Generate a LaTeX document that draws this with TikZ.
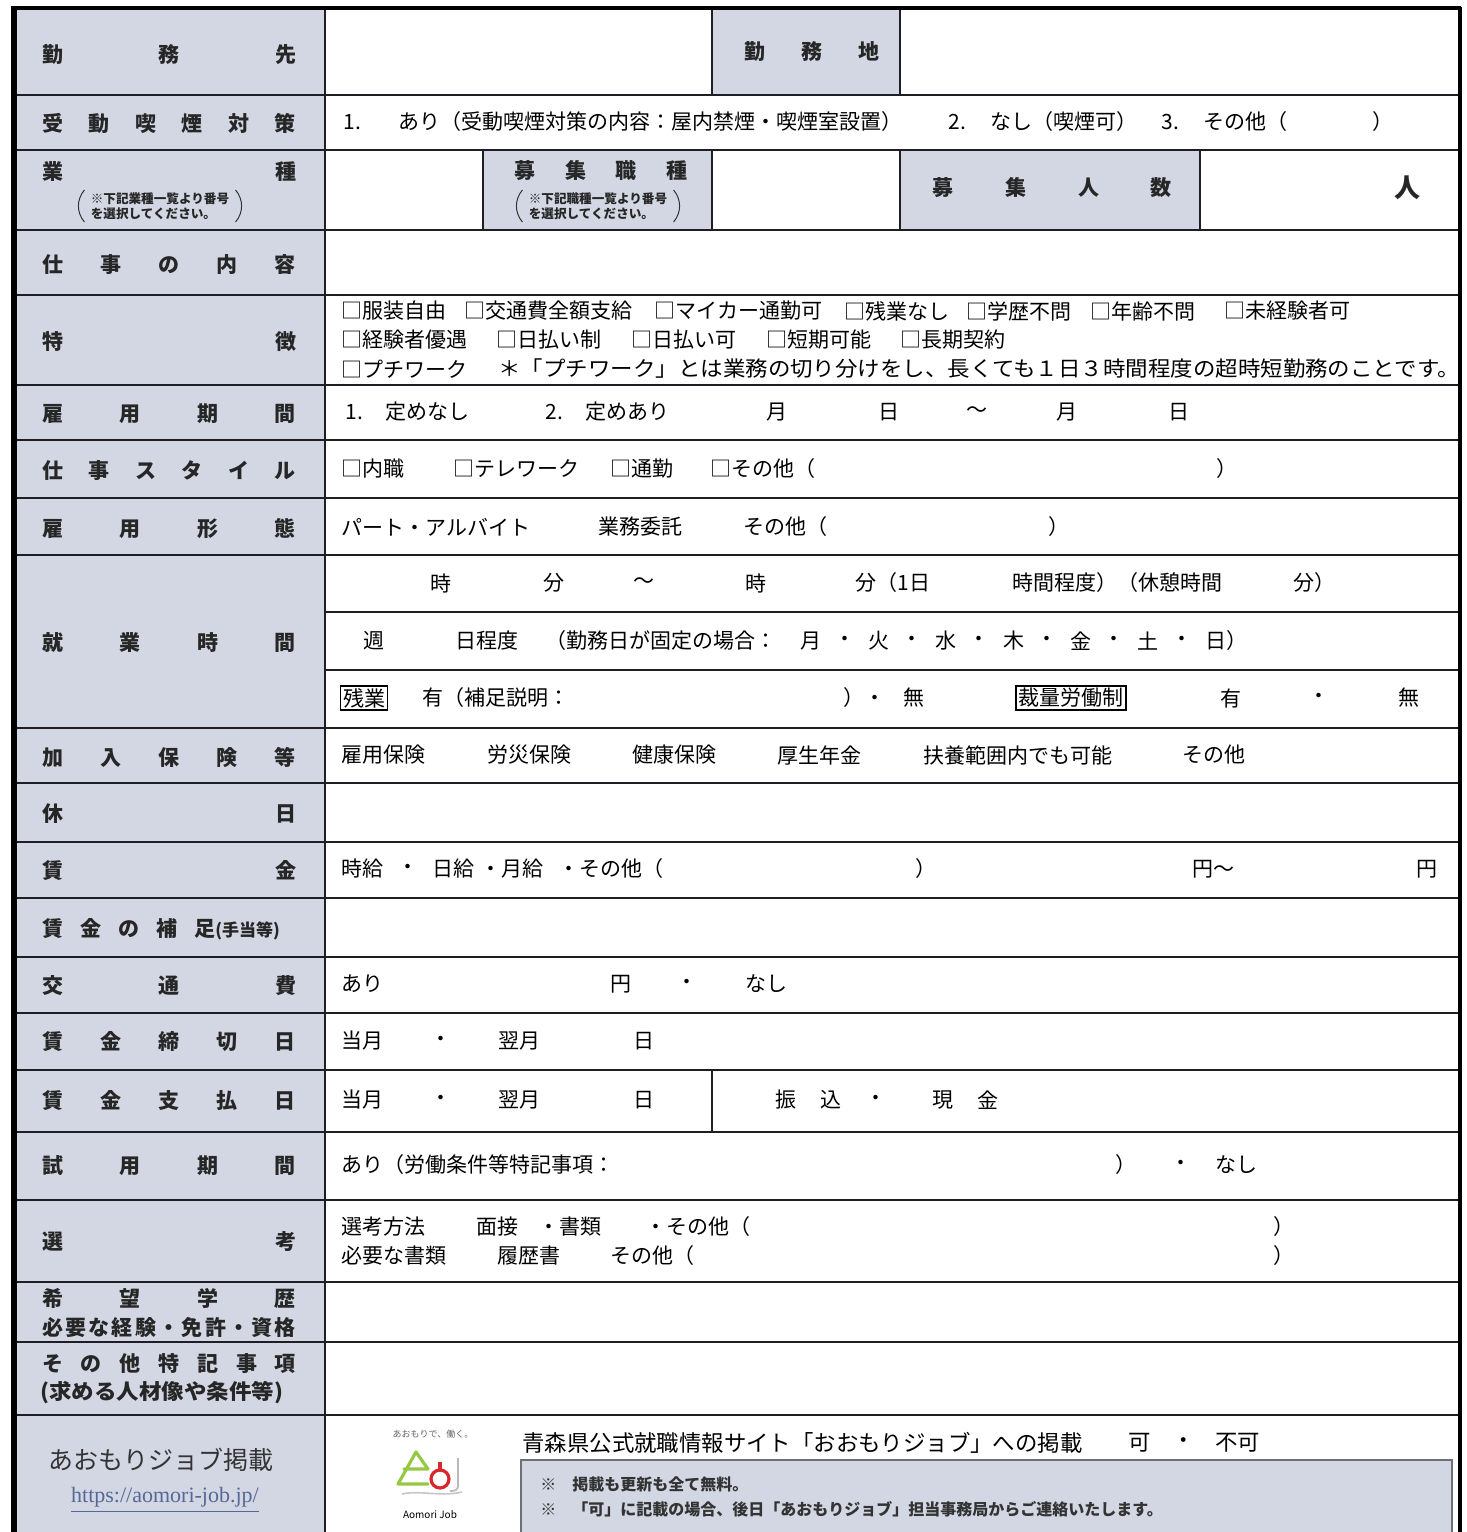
\documentclass[tikz,border=0pt]{standalone}
\usepackage{graphicx}
\usepackage{fontspec}
\setmainfont{Noto Sans CJK JP}
\newfontfamily\urlf{Liberation Serif}
\definecolor{labfill}{RGB}{211,215,228}
\definecolor{rulec}{RGB}{30,30,36}
\definecolor{urlc}{RGB}{85,105,150}
\definecolor{logog}{RGB}{150,200,70}
\definecolor{logor}{RGB}{215,40,45}
\definecolor{boxedge}{RGB}{110,112,120}
\makeatletter
\newcommand\spr[2][127pt]{\makebox[#1][s]{\let\spr@sep\relax\@tfor\spr@c:=#2\do{\spr@sep\spr@c\let\spr@sep\hfill}}}
\makeatother
\newcounter{tn}
\newcommand\tx[3]{\stepcounter{tn}\node[txt] (t\arabic{tn}) at (#1,#2) {#3};}
\newcommand\lab[2]{\stepcounter{tn}\node[labt] (l\arabic{tn}) at (169,#1) {\spr{#2}};}
\tikzset{
  txt/.style={anchor=west, inner sep=0pt, font=\fontsize{10.5}{12}\selectfont},
  labt/.style={inner sep=0pt, font=\bfseries\fontsize{10.5}{12}\selectfont, text=black!85},
  note/.style={inner sep=0pt, align=left, font=\bfseries\fontsize{6.3}{7.6}\selectfont, text=black!85},
  paren/.style={draw=black!80, line width=0.5pt},
  rule/.style={draw=rulec, line width=1.2pt},
  cellfill/.style={fill=labfill},
  boxed/.style={draw=black, line width=0.8pt, inner sep=1.2pt, font=\fontsize{10.5}{12}\selectfont},
}
\begin{document}
\begin{tikzpicture}[x=0.5pt,y=-0.5pt]
\useasboundingbox (0,0) rectangle (1467,1532);
% ---------- shaded cells ----------
\fill[cellfill] (13,8) rectangle (325,1532);
\fill[cellfill] (712,8) rectangle (900,95);
\fill[cellfill] (483,150) rectangle (712,230);
\fill[cellfill] (900,150) rectangle (1200,230);
% ---------- rules ----------
\foreach \yy in {95,150,230,295,385,440,498,555,728,783,842,898,957,1013,1070,1132,1200,1282,1342,1415}
  \draw[rule] (13,\yy) -- (1460,\yy);
\foreach \yy in {612,670}
  \draw[rule] (325,\yy) -- (1460,\yy);
\draw[rule] (325,8) -- (325,1532);
\draw[rule] (712,8) -- (712,95);
\draw[rule] (900,8) -- (900,95);
\foreach \xx in {483,712,900,1200}
  \draw[rule] (\xx,150) -- (\xx,230);
\draw[draw=rulec, line width=0.7pt] (712,1070) -- (712,1132);
% outer frame
\draw[draw=black, line width=3pt] (14,6) -- (14,1532);
\draw[draw=black, line width=2pt] (12,8) -- (1461,8);
\draw[draw=black, line width=1.6pt] (1460,7) -- (1460,1532);
% ---------- label column ----------
\lab{55}{勤務先}
\lab{124}{受動喫煙対策}
\lab{172}{業種}
\node[note] (n1) at (160,206) {※下記業種一覧より番号\\を選択してください。};
\draw[paren] ([xshift=-3pt,yshift=1pt]n1.north west) to[bend right=40] ([xshift=-3pt,yshift=-1pt]n1.south west);
\draw[paren] ([xshift=3pt,yshift=1pt]n1.north east) to[bend left=40] ([xshift=3pt,yshift=-1pt]n1.south east);
\lab{265}{仕事の内容}
\lab{342}{特徴}
\lab{414}{雇用期間}
\lab{471}{仕事スタイル}
\lab{529}{雇用形態}
\lab{643}{就業時間}
\lab{757}{加入保険等}
\lab{814}{休日}
\lab{871}{賃金}
\stepcounter{tn}\node[labt, anchor=west] (l\arabic{tn}) at (42,929) {賃\hspace{8.5pt}金\hspace{8.5pt}の\hspace{8.5pt}補\hspace{8.5pt}足{\fontsize{8.5}{9}\selectfont (手当等)}};
\lab{986}{交通費}
\lab{1042}{賃金締切日}
\lab{1101}{賃金支払日}
\lab{1166}{試用期間}
\lab{1242}{選考}
\lab{1298}{希望学歴}
\lab{1327}{必要な経験・免許・資格}
\lab{1364}{その他特記事項}
\stepcounter{tn}\node[labt, anchor=west] (l\arabic{tn}) at (40,1393) {\scalebox{1.07}[1]{(求める人材像や条件等)}};
% ---------- row 1 ----------
\stepcounter{tn}\node[labt] (l\arabic{tn}) at (812,52) {\spr[67.5pt]{勤務地}};
% ---------- row 2 ----------
\tx{343}{122}{1.}
\tx{398}{122}{あり（受動喫煙対策の内容：屋内禁煙・喫煙室設置）}
\tx{948}{122}{2.}
\tx{990}{122}{なし（喫煙可）}
\tx{1161}{122}{3.}
\tx{1203}{122}{その他（}
\tx{1372}{122}{）}
% ---------- row 3 ----------
\stepcounter{tn}\node[labt] (l\arabic{tn}) at (601,171) {\spr[86.5pt]{募集職種}};
\node[note] (n2) at (598,206) {※下記職種一覧より番号\\を選択してください。};
\draw[paren] ([xshift=-3pt,yshift=1pt]n2.north west) to[bend right=40] ([xshift=-3pt,yshift=-1pt]n2.south west);
\draw[paren] ([xshift=3pt,yshift=1pt]n2.north east) to[bend left=40] ([xshift=3pt,yshift=-1pt]n2.south east);
\stepcounter{tn}\node[labt] (l\arabic{tn}) at (1052,188) {\spr[120pt]{募集人数}};
\stepcounter{tn}\node[labt, font=\bfseries\fontsize{13}{14}\selectfont] (l\arabic{tn}) at (1407,188) {人};
% ---------- row 5 ----------
\tx{341}{311}{□服装自由}
\tx{464}{311}{□交通費全額支給}
\tx{654}{311}{□マイカー通勤可}
\tx{844}{311}{□残業なし}
\tx{966}{311}{□学歴不問}
\tx{1090}{311}{□年齢不問}
\tx{1224}{311}{□未経験者可}
\tx{341}{340}{□経験者優遇}
\tx{496}{340}{□日払い制}
\tx{631}{340}{□日払い可}
\tx{766}{340}{□短期可能}
\tx{900}{340}{□長期契約}
\tx{341}{369}{□プチワーク}
\tx{498}{369}{\scalebox{1.07}[1]{＊「プチワーク」とは業務の切り分けをし、長くても１日３時間程度の超時短勤務のことです。}}
% ---------- row 6 ----------
\tx{345}{412}{1.}
\tx{385}{412}{定めなし}
\tx{545}{412}{2.}
\tx{585}{412}{定めあり}
\tx{766}{412}{月}
\tx{878}{412}{日}
\tx{966}{412}{〜}
\tx{1056}{412}{月}
\tx{1168}{412}{日}
% ---------- row 7 ----------
\tx{341}{469}{□内職}
\tx{453}{469}{□テレワーク}
\tx{610}{469}{□通勤}
\tx{710}{469}{□その他（}
\tx{1216}{469}{）}
% ---------- row 8 ----------
\tx{341}{527}{パート・アルバイト}
\tx{598}{527}{業務委託}
\tx{743}{527}{その他（}
\tx{1048}{527}{）}
% ---------- row 9 ----------
\tx{430}{583}{時}
\tx{543}{583}{分}
\tx{633}{583}{〜}
\tx{745}{583}{時}
\tx{855}{583}{分（1日}
\tx{1012}{583}{時間程度）（休憩時間}
\tx{1293}{583}{分）}
\tx{363}{641}{週}
\tx{455}{641}{日程度}
\tx{545}{641}{（勤務日が固定の場合：}
\foreach \xx/\ch [count=\k] in {800/月,834/・,868/火,901/・,935/水,968/・,1003/木,1036/・,1070/金,1103/・,1137/土,1171/・,1205/日）}
  \node[txt] (wd\k) at (\xx,641) {\ch};
\stepcounter{tn}\node[boxed] (b\arabic{tn}) at (364,698) {残業};
\tx{422}{698}{有（補足説明：}
\tx{843}{698}{）・}
\tx{903}{698}{無}
\stepcounter{tn}\node[boxed] (b\arabic{tn}) at (1071,698) {裁量労働制};
\tx{1220}{698}{有}
\tx{1308}{698}{・}
\tx{1398}{698}{無}
% ---------- row 10 ----------
\tx{341}{755}{雇用保険}
\tx{487}{755}{労災保険}
\tx{632}{755}{健康保険}
\tx{777}{755}{厚生年金}
\tx{923}{755}{扶養範囲内でも可能}
\tx{1182}{755}{その他}
% ---------- row 12 ----------
\tx{341}{869}{時給}
\tx{397}{869}{・}
\tx{432}{869}{日給}
\tx{480}{869}{・月給}
\tx{558}{869}{・その他（}
\tx{915}{869}{）}
\tx{1192}{869}{円〜}
\tx{1416}{869}{円}
% ---------- row 14 ----------
\tx{341}{984}{あり}
\tx{610}{984}{円}
\tx{676}{984}{・}
\tx{745}{984}{なし}
% ---------- row 15 ----------
\tx{341}{1041}{当月}
\tx{430}{1041}{・}
\tx{498}{1041}{翌月}
\tx{633}{1041}{日}
% ---------- row 16 ----------
\tx{341}{1100}{当月}
\tx{430}{1100}{・}
\tx{498}{1100}{翌月}
\tx{633}{1100}{日}
\tx{775}{1100}{振}
\tx{820}{1100}{込}
\tx{865}{1100}{・}
\tx{932}{1100}{現}
\tx{977}{1100}{金}
% ---------- row 17 ----------
\tx{341}{1165}{あり（労働条件等特記事項：}
\tx{1115}{1165}{）}
\tx{1170}{1165}{・}
\tx{1215}{1165}{なし}
% ---------- row 18 ----------
\tx{341}{1227}{選考方法}
\tx{476}{1227}{面接}
\tx{538}{1227}{・書類}
\tx{645}{1227}{・その他（}
\tx{1273}{1227}{）}
\tx{341}{1256}{必要な書類}
\tx{497}{1256}{履歴書}
\tx{610}{1256}{その他（}
\tx{1273}{1256}{）}
% ---------- row 21 ----------
\stepcounter{tn}\node[inner sep=0pt, font=\fontsize{12.5}{14}\selectfont, text=black!80] (l\arabic{tn}) at (161,1460) {あおもりジョブ掲載};
\node[inner sep=0pt, font=\urlf\fontsize{11}{12}\selectfont, text=urlc] (url) at (165,1497) {https://aomori-job.jp/};
\draw[urlc, line width=0.6pt] ([yshift=-2pt]url.south west) -- ([yshift=-2pt]url.south east);
% logo
\node[inner sep=0pt, font=\fontsize{4.5}{5}\selectfont, text=black!60] (lgtag) at (433,1434) {あおもりで、働く。};
\draw[logog, line width=1.6pt, line join=round, line cap=round] (404,1469) -- (428,1469) -- (416,1452) -- (398,1484) -- (428,1484);
\draw[logor, line width=1.6pt] (440,1479) circle (9);
\draw[logor, line width=1.6pt] (440,1470) -- (440,1462);
\draw[gray!55, line width=0.9pt] (458,1458) -- (458,1486) .. controls (458,1490) and (455,1491) .. (450,1491);
\draw[gray!45, line width=0.8pt] (402,1494) .. controls (420,1490) and (440,1497) .. (462,1492);
\node[inner sep=0pt, font=\fontsize{5}{6}\selectfont] (lgname) at (430,1515) {Aomori Job};
% heading
\tx{522}{1443}{\fontsize{11.2}{13}\selectfont 青森県公式就職情報サイト「おおもりジョブ」への掲載}
\tx{1128}{1443}{\fontsize{11.2}{13}\selectfont 可}
\tx{1172}{1443}{\fontsize{11.2}{13}\selectfont ・}
\tx{1215}{1443}{\fontsize{11.2}{13}\selectfont 不可}
% note box
\fill[cellfill] (521,1460) rectangle (1452,1532);
\draw[draw=boxedge, line width=1pt] (521,1532) -- (521,1460) -- (1452,1460) -- (1452,1532);
\stepcounter{tn}\node[anchor=west, inner sep=0pt, font=\bfseries\fontsize{8}{9}\selectfont, text=black!80] (bx\arabic{tn}) at (540,1484) {※　掲載も更新も全て無料。};
\stepcounter{tn}\node[anchor=west, inner sep=0pt, font=\bfseries\fontsize{8}{9}\selectfont, text=black!80] (bx\arabic{tn}) at (540,1509) {※　「可」に記載の場合、後日「あおもりジョブ」担当事務局からご連絡いたします。};
\end{tikzpicture}
\end{document}
